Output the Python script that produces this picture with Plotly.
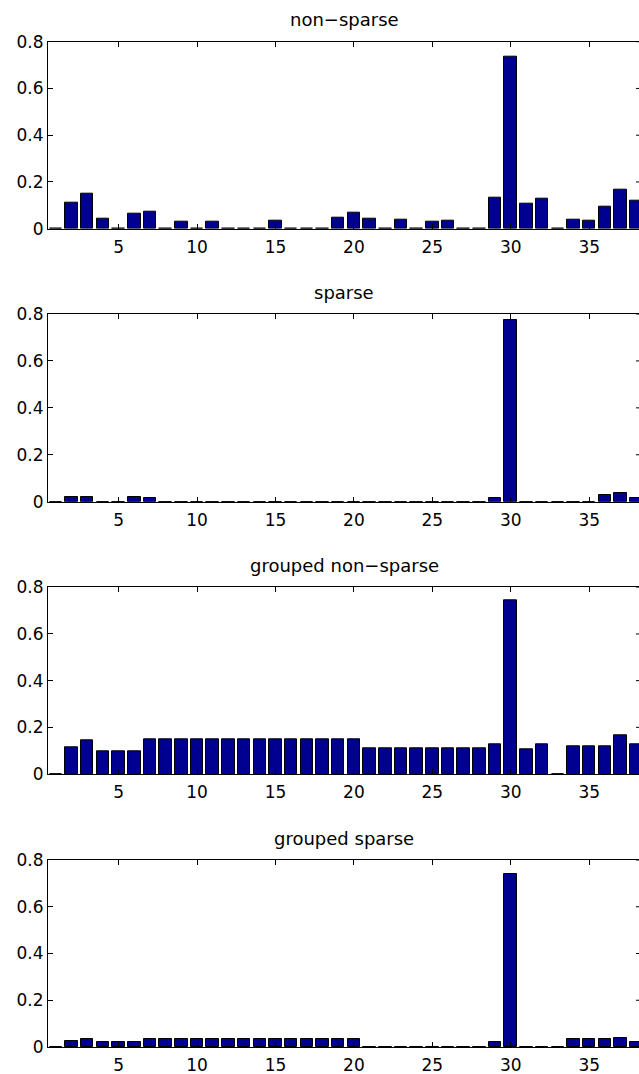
import plotly.graph_objects as go

x_idx = list(range(1, 39))

non_sparse = [0, 0.113, 0.150, 0.043, 0, 0.066, 0.074, 0, 0.031, 0,
              0.030, 0, 0, 0, 0.033, 0, 0, 0, 0.046, 0.070,
              0.044, 0, 0.037, 0, 0.031, 0.036, 0, 0, 0.133, 0.736,
              0.106, 0.127, 0, 0.040, 0.033, 0.096, 0.165, 0.120]

sparse = [0, 0.021, 0.021, 0, 0, 0.020, 0.016, 0, 0, 0,
          0, 0, 0, 0, 0, 0, 0, 0, 0, 0,
          0, 0, 0, 0, 0, 0, 0, 0, 0.014, 0.776,
          0, 0, 0, 0, 0, 0.028, 0.036, 0.017]

grouped_non_sparse = [0, 0.114, 0.146, 0.097, 0.097, 0.097] + [0.147] * 14 + \
                     [0.110] * 8 + [0.126, 0.744, 0.106, 0.129, 0, 0.117, 0.117, 0.117, 0.164, 0.127]

grouped_sparse = [0, 0.026, 0.034, 0.021, 0.021, 0.021] + [0.034] * 14 + \
                 [0] * 8 + [0.021, 0.739, 0, 0, 0, 0.036, 0.036, 0.036, 0.040, 0.020]

titles = ["non\u2212sparse", "sparse", "grouped non\u2212sparse", "grouped sparse"]
series = [non_sparse, sparse, grouped_non_sparse, grouped_sparse]

x_ticks = [5, 10, 15, 20, 25, 30, 35]
y_ticks = [0, 0.2, 0.4, 0.6, 0.8]
y_tick_text = ["0", "0.2", "0.4", "0.6", "0.8"]

W, H = 639, 1074
left_px = 48
px_per_unit = 15.687
x_range = [0.5, 0.5 + (W - left_px) / px_per_unit]

# plot-area top/bottom in pixels
areas = [(41.7, 228.7), (314.0, 501.7), (587.3, 774.0), (860.0, 1047.0)]

fig = go.Figure()
title_font = dict(family="DejaVu Sans, sans-serif", size=18, color="black")
tick_font = dict(family="DejaVu Sans, sans-serif", size=17, color="black")

for i, (vals, title) in enumerate(zip(series, titles)):
    n = i + 1
    xa = "x" if n == 1 else f"x{n}"
    ya = "y" if n == 1 else f"y{n}"
    fig.add_trace(go.Bar(
        x=x_idx, y=vals, width=0.8,
        marker=dict(color="#000090", line=dict(color="black", width=1)),
        xaxis=xa, yaxis=ya, showlegend=False,
    ))
    top, bot = areas[i]
    dom = [1 - bot / H, 1 - top / H]
    xkey = "xaxis" if n == 1 else f"xaxis{n}"
    ykey = "yaxis" if n == 1 else f"yaxis{n}"
    fig.update_layout(**{
        xkey: dict(domain=[left_px / W, 1], range=x_range, anchor=ya,
                   tickvals=x_ticks, ticks="inside", ticklen=5, tickcolor="black",
                   showline=True, linecolor="black", linewidth=1, mirror="ticks",
                   showgrid=False, zeroline=False, tickfont=tick_font, fixedrange=True,
                   automargin=False, ticklabelstandoff=3),
        ykey: dict(domain=dom, range=[0, 0.8], anchor=xa,
                   tickvals=y_ticks, ticktext=y_tick_text, ticks="inside", ticklen=5,
                   tickcolor="black", showline=True, linecolor="black", linewidth=1,
                   showgrid=False, zeroline=False, tickfont=tick_font, fixedrange=True,
                   automargin=False),
    })
    fig.add_annotation(text=title, xref="paper", yref="paper",
                       x=344 / W, y=1 - (top - 22) / H, xanchor="center", yanchor="middle",
                       showarrow=False, font=title_font)
    # right-side inward y ticks (axis edge is just beyond the visible window)
    for yv in y_ticks[1:]:
        fig.add_shape(type="line", xref=f"{xa} domain", yref=ya,
                      x0=1 - 3 / (W - left_px), x1=1, y0=yv, y1=yv,
                      line=dict(color="black", width=1))

fig.update_layout(width=W, height=H, margin=dict(l=0, r=0, t=0, b=0, autoexpand=False),
                  paper_bgcolor="white", plot_bgcolor="white", bargap=0)

fig.write_html("out.html")
